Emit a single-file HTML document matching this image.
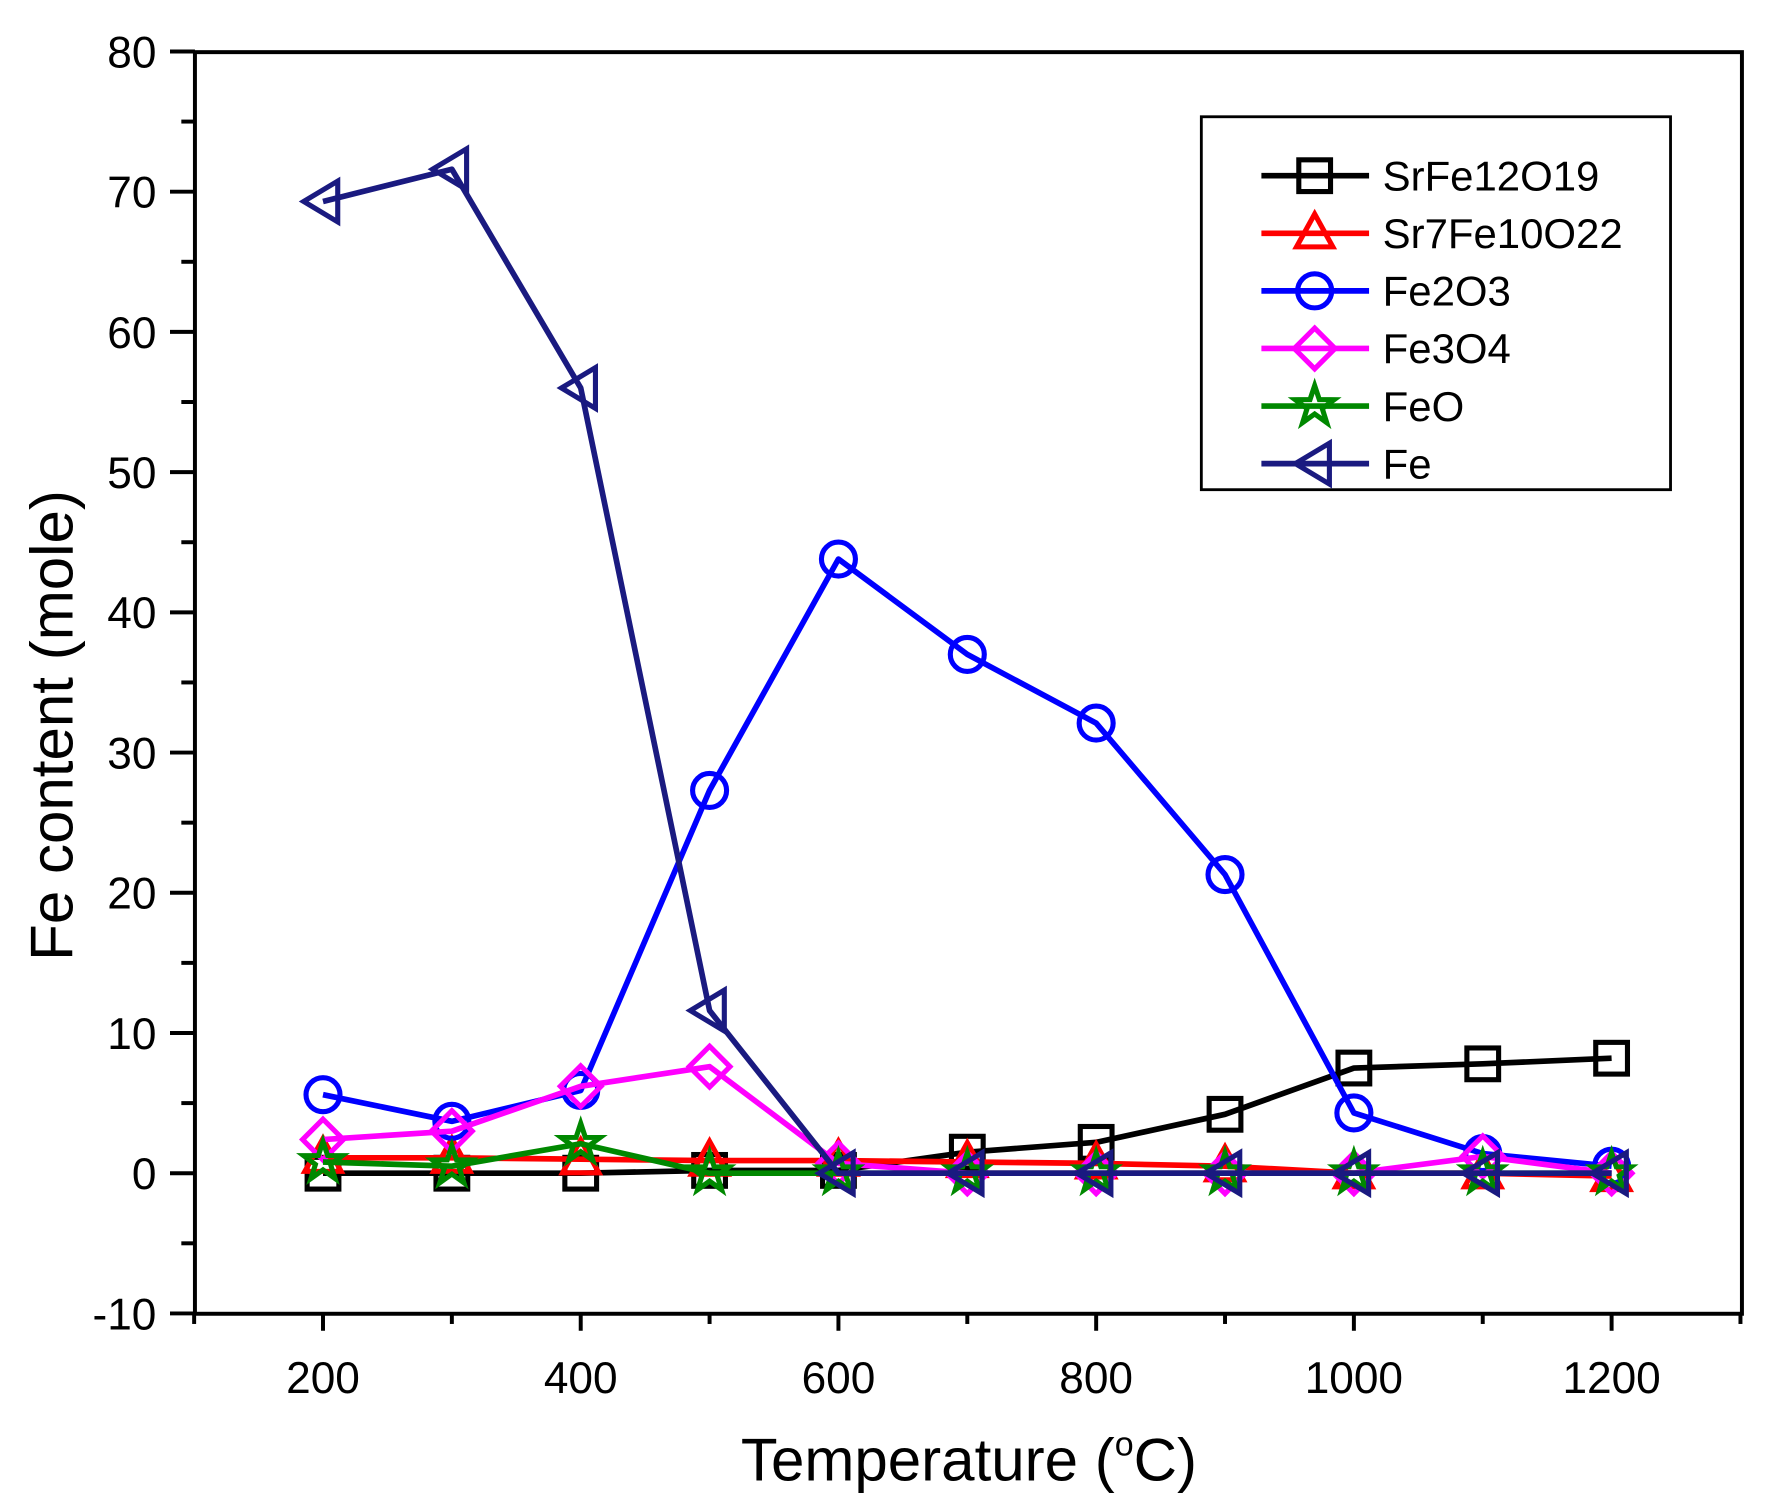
<!DOCTYPE html>
<html><head><meta charset="utf-8"><style>html,body{margin:0;padding:0;background:#fff}svg{display:block}</style></head>
<body>
<svg id="s" width="1768" height="1511" viewBox="0 0 1560 1333" preserveAspectRatio="none" xmlns="http://www.w3.org/2000/svg" font-family="Liberation Sans, Arial, sans-serif"></svg>
<script>
const s=document.getElementById('s');let h='';
const X=t=>285+(t-200)*1.137, Y=v=>1035-v*12.37;
h+='<rect x="172" y="46" width="1365" height="1113" fill="none" stroke="#000" stroke-width="3.5"/>';
for(let v=-10;v<=80;v+=5){const y=Y(v),maj=v%10==0;h+=`<line x1="${maj?150:160}" x2="172" y1="${y}" y2="${y}" stroke="#000" stroke-width="3.5"/>`;if(maj)h+=`<text x="138" y="${y+14}" font-size="39" text-anchor="end">${v}</text>`;}
for(let t=100;t<=1300;t+=100){const x=X(t),maj=t%200==0;h+=`<line x1="${x}" x2="${x}" y1="1159" y2="${maj?1174:1168}" stroke="#000" stroke-width="3.5"/>`;if(maj&&t>=200&&t<=1200)h+=`<text x="${x}" y="1229" font-size="39" text-anchor="middle">${t}</text>`;}
h+='<text x="855" y="1306" font-size="53" text-anchor="middle">Temperature (<tspan font-size="30" dy="-22">o</tspan><tspan dy="22">C)</tspan></text>';
h+='<text transform="translate(64,640) rotate(-90)" font-size="53" text-anchor="middle">Fe content (mole)</text>';
const T=[200,300,400,500,600,700,800,900,1000,1100,1200];
const S=[
['SrFe12O19','#000','sq',[0,0,0,0.2,0.2,1.5,2.2,4.2,7.5,7.8,8.2]],
['Sr7Fe10O22','#f00','tri',[1.1,1.1,1.0,0.9,0.9,0.8,0.7,0.5,0,0,-0.2]],
['Fe2O3','#00f','circ',[5.6,3.7,5.9,27.3,43.8,37,32.1,21.3,4.3,1.4,0.5]],
['Fe3O4','#f0f','dia',[2.4,3,6.2,7.6,0.7,0,0,0,0,1.2,0]],
['FeO','#080','star',[0.8,0.5,2.1,0,0,0,0,0,0,0,0]],
['Fe','#1a1a80','lt',[69.3,71.6,56,11.6,0,0,0,0,0,0,0]]];
function mk(k,x,y,c){const st=`fill="none" stroke="${c}" stroke-width="4.5"`;
if(k=='sq')return `<rect x="${x-14}" y="${y-14}" width="28" height="28" ${st}/>`;
if(k=='circ')return `<circle cx="${x}" cy="${y}" r="15" ${st}/>`;
if(k=='tri')return `<polygon points="${x},${y-17} ${x+16},${y+12} ${x-16},${y+12}" ${st}/>`;
if(k=='dia')return `<polygon points="${x},${y-18} ${x+18},${y} ${x},${y+18} ${x-18},${y}" ${st}/>`;
if(k=='lt')return `<polygon points="${x-17},${y} ${x+13},${y-18} ${x+13},${y+18}" ${st}/>`;
let p=[];for(let i=0;i<10;i++){const r=i%2?7:18,a=-Math.PI/2+i*Math.PI/5;p.push((x+r*Math.cos(a)).toFixed(1)+','+(y+r*Math.sin(a)).toFixed(1));}
return `<polygon points="${p.join(' ')}" ${st}/>`;}
S.forEach(([n,c,k,d])=>{h+=`<polyline points="${T.map((t,i)=>X(t)+','+Y(d[i])).join(' ')}" fill="none" stroke="${c}" stroke-width="5" stroke-linejoin="round"/>`;T.forEach((t,i)=>h+=mk(k,X(t),Y(d[i]),c));});
h+='<rect x="1060" y="103" width="414" height="329" fill="#fff" stroke="#000" stroke-width="2.5"/>';
S.forEach(([n,c,k],i)=>{const y=155+i*50.8;h+=`<line x1="1113" x2="1208" y1="${y}" y2="${y}" stroke="${c}" stroke-width="5"/>`+mk(k,1160,y,c)+`<text x="1220" y="${y+13}" font-size="37">${n}</text>`;});
s.innerHTML=h;
</script>
</body></html>
